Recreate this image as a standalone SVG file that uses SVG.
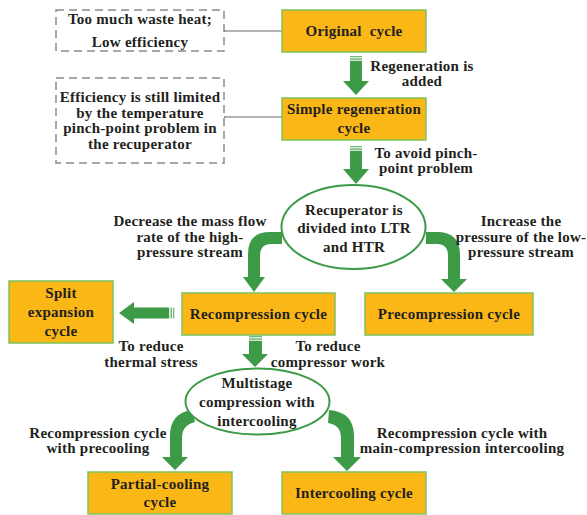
<svg xmlns="http://www.w3.org/2000/svg" width="587" height="515" viewBox="0 0 587 515">
<defs>
<style>
.t{font-family:"Liberation Serif","Times New Roman","DejaVu Serif",serif;font-weight:bold;font-size:15px;letter-spacing:0.25px;fill:#231f20;text-anchor:middle}
.box{fill:#fbb715;stroke:#7dc35b;stroke-width:1.5}
.dash{fill:#fff;stroke:#8a8a8a;stroke-width:1.5;stroke-dasharray:8 5}
.ell{fill:#fff;stroke:#3d9b47;stroke-width:2}
.ga{fill:#3d9b47}
.gl{stroke:#9a9a9a;stroke-width:1.4;fill:none}
</style>
<marker id="open" viewBox="0 0 10 10" refX="1" refY="5" markerWidth="8" markerHeight="8" orient="auto-start-reverse" markerUnits="userSpaceOnUse">
<path d="M9,1 L1,5 L9,9" fill="none" stroke="#9a9a9a" stroke-width="1.4"/>
</marker>
</defs>
<rect width="587" height="515" fill="#fff"/>

<g id="connectors">
<line class="gl" x1="282" y1="31" x2="225" y2="31" marker-end="url(#open)"/>
<line class="gl" x1="282" y1="117" x2="225" y2="117" marker-end="url(#open)"/>
<g class="ga">
<rect x="350" y="56" width="12" height="1.3" opacity="0.7"/><rect x="350" y="58.4" width="12" height="1.3" opacity="0.85"/>
<path d="M350,60.8 H362 V81 H369 L356,95 L343,81 H350 Z"/>
<rect x="350" y="146" width="12" height="1.3" opacity="0.7"/><rect x="350" y="148.4" width="12" height="1.3" opacity="0.85"/>
<path d="M350,150.8 H362 V169 H369 L356,184 L343,169 H350 Z"/>
<rect x="249" y="336" width="13" height="1.3" opacity="0.7"/><rect x="249" y="338.4" width="13" height="1.3" opacity="0.85"/>
<path d="M249,340.8 H262 V354 H268 L255,367 L242,354 H249 Z"/>
<rect x="173" y="307.5" width="1.3" height="11" opacity="0.7"/><rect x="170.6" y="307.5" width="1.3" height="11" opacity="0.85"/>
<path d="M169.2,307.5 V318.5 H134 V324 L119,313 L134,302 V307.5 Z"/>
<path d="M282,232 L270,232 Q248,232 248,254 L248,277 L243,277 L254,292 L265,277 L260,277 L260,256 Q260,244 271,244 L282,244 Z"/>
<path d="M426,232 L437,232 Q460,232 460,255 L460,279 L467,279 L454,292 L441,279 L448,279 L448,256 Q448,244 437,244 L426,244 Z"/>
<path d="M192,410 Q170,413 170,436 L170,457 L162,457 L175,470 L188,457 L182,457 L182,438 Q182,425 195,422 Z"/>
<path d="M329,410 Q354,412 354,436 L354,457 L361,457 L347,471 L333,457 L341,457 L341,438 Q341,425 328,423 Z"/>
</g>
</g>

<g id="note1">
<rect class="dash" x="56" y="10" width="168" height="41"/>
<text class="t" x="140" y="24">Too much waste heat;</text>
<text class="t" x="140" y="47">Low efficiency</text>
</g>
<g id="note2">
<rect class="dash" x="56" y="78" width="168" height="85"/>
<text class="t" x="140" y="102">Efficiency is still limited</text>
<text class="t" x="140" y="117.5">by the temperature</text>
<text class="t" x="140" y="133">pinch-point problem in</text>
<text class="t" x="140" y="148.5">the recuperator</text>
</g>
<g id="original">
<rect class="box" x="282" y="10" width="144" height="42"/>
<text class="t" x="354" y="36" xml:space="preserve">Original  cycle</text>
</g>
<g id="lbl-regen">
<text class="t" x="422" y="70.5">Regeneration is</text>
<text class="t" x="422" y="85.5">added</text>
</g>
<g id="simple">
<rect class="box" x="282" y="98" width="144" height="42"/>
<text class="t" x="354" y="114">Simple regeneration</text>
<text class="t" x="354" y="133">cycle</text>
</g>
<g id="lbl-pinch">
<text class="t" x="426" y="157.5">To avoid pinch-</text>
<text class="t" x="426" y="173">point problem</text>
</g>
<g id="recuperator">
<ellipse class="ell" cx="353.5" cy="227" rx="72" ry="42"/>
<text class="t" x="354" y="215">Recuperator is</text>
<text class="t" x="354" y="233">divided into LTR</text>
<text class="t" x="354" y="252">and HTR</text>
</g>
<g id="lbl-decrease">
<text class="t" x="190" y="226">Decrease the mass flow</text>
<text class="t" x="190" y="241.5">rate of the high-</text>
<text class="t" x="190" y="257">pressure stream</text>
</g>
<g id="lbl-increase">
<text class="t" x="521" y="226">Increase the</text>
<text class="t" x="521" y="241.5">pressure of the low-</text>
<text class="t" x="521" y="257">pressure stream</text>
</g>
<g id="split">
<rect class="box" x="9" y="281" width="104" height="62"/>
<text class="t" x="61" y="298">Split</text>
<text class="t" x="61" y="317">expansion</text>
<text class="t" x="61" y="336">cycle</text>
</g>
<g id="recompression">
<rect class="box" x="182" y="293" width="153" height="42"/>
<text class="t" x="258.5" y="319">Recompression cycle</text>
</g>
<g id="precompression">
<rect class="box" x="365" y="293" width="168" height="42"/>
<text class="t" x="449" y="319">Precompression cycle</text>
</g>
<g id="lbl-thermal">
<text class="t" x="151" y="351">To reduce</text>
<text class="t" x="151" y="367">thermal stress</text>
</g>
<g id="lbl-compwork">
<text class="t" x="328" y="351">To reduce</text>
<text class="t" x="328" y="367">compressor work</text>
</g>
<g id="multistage">
<ellipse class="ell" cx="257.5" cy="401.5" rx="72" ry="33"/>
<text class="t" x="257" y="388">Multistage</text>
<text class="t" x="257" y="407">compression with</text>
<text class="t" x="257" y="426">intercooling</text>
</g>
<g id="lbl-precool">
<text class="t" x="98" y="437.5">Recompression cycle</text>
<text class="t" x="98" y="453">with precooling</text>
</g>
<g id="lbl-maincomp">
<text class="t" x="462" y="437.5">Recompression cycle with</text>
<text class="t" x="462" y="453">main-compression intercooling</text>
</g>
<g id="partial">
<rect class="box" x="88" y="472" width="144" height="42"/>
<text class="t" x="160" y="489">Partial-cooling</text>
<text class="t" x="160" y="507">cycle</text>
</g>
<g id="intercooling">
<rect class="box" x="282" y="472" width="144" height="42"/>
<text class="t" x="354" y="498">Intercooling cycle</text>
</g>
</svg>
